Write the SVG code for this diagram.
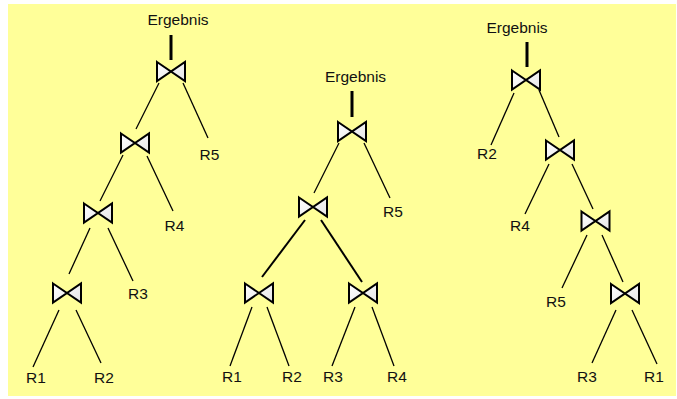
<svg xmlns="http://www.w3.org/2000/svg" xmlns:xlink="http://www.w3.org/1999/xlink" width="677" height="399" viewBox="0 0 677 399">
  <style>
    .lbl { font-family: "Liberation Sans", Arial, sans-serif; font-size: 15.5px; fill: #111; }
    .edge { stroke: #000; stroke-width: 1.3; fill: none; }
    .edge-bold { stroke: #000; stroke-width: 2; fill: none; }
    .root { stroke: #000; stroke-width: 3; fill: none; }
    .join { stroke: #000; stroke-width: 2; stroke-linejoin: miter; fill: url(#joinFill); }
  </style>
  <defs>
    <linearGradient id="joinFill" x1="0" y1="0" x2="1" y2="1">
      <stop offset="0" stop-color="#ffffff"/>
      <stop offset="1" stop-color="#e6e6e6"/>
    </linearGradient>
    <!-- join (bowtie) symbol centred on 0,0 -->
    <path id="bowtie" class="join" d="M -14 -9.5 L 14 9.5 L 14 -9.5 L -14 9.5 Z"/>
  </defs>

  <rect x="8" y="4" width="668" height="392" fill="#ffff99"/>

  <!-- connectors -->
  <g id="connectors">
    <!-- left-deep plan -->
    <line class="root" x1="171" y1="35" x2="171" y2="60"/>
    <line class="edge" x1="159" y1="83" x2="136" y2="129"/>
    <line class="edge" x1="183" y1="83" x2="208" y2="138"/>
    <line class="edge" x1="123" y1="155" x2="100" y2="201"/>
    <line class="edge" x1="147" y1="156" x2="173" y2="211"/>
    <line class="edge" x1="90" y1="228" x2="69" y2="274"/>
    <line class="edge" x1="108" y1="228" x2="133" y2="281"/>
    <line class="edge" x1="59" y1="310" x2="33" y2="367"/>
    <line class="edge" x1="76" y1="310" x2="101" y2="363"/>

    <!-- bushy plan -->
    <line class="root" x1="352" y1="91" x2="352" y2="117"/>
    <line class="edge" x1="339" y1="143" x2="314" y2="193"/>
    <line class="edge" x1="364" y1="143" x2="390" y2="198"/>
    <line class="edge-bold" x1="305" y1="220" x2="262" y2="277"/>
    <line class="edge-bold" x1="321" y1="220" x2="362" y2="282"/>
    <line class="edge" x1="252" y1="307" x2="230" y2="366"/>
    <line class="edge" x1="267" y1="307" x2="289" y2="366"/>
    <line class="edge" x1="355" y1="307" x2="332" y2="366"/>
    <line class="edge" x1="372" y1="307" x2="394" y2="366"/>

    <!-- right-deep plan -->
    <line class="root" x1="527" y1="42" x2="527" y2="67"/>
    <line class="edge" x1="514" y1="93" x2="491" y2="145"/>
    <line class="edge" x1="539" y1="90" x2="559" y2="137"/>
    <line class="edge" x1="549" y1="164" x2="525" y2="214"/>
    <line class="edge" x1="572" y1="164" x2="593" y2="209"/>
    <line class="edge" x1="587" y1="235" x2="562" y2="288"/>
    <line class="edge" x1="602" y1="235" x2="623" y2="282"/>
    <line class="edge" x1="616" y1="310" x2="592" y2="363"/>
    <line class="edge" x1="632" y1="310" x2="657" y2="364"/>
  </g>

  <!-- left-deep plan nodes -->
  <g id="t1-result"><text class="lbl" x="178" y="25" text-anchor="middle">Ergebnis</text></g>
  <g id="t1-j1"><use xlink:href="#bowtie" x="171" y="71.5"/></g>
  <g id="t1-j2"><use xlink:href="#bowtie" x="135" y="143"/></g>
  <g id="t1-j3"><use xlink:href="#bowtie" x="98" y="213"/></g>
  <g id="t1-j4"><use xlink:href="#bowtie" x="67" y="293"/></g>
  <g id="t1-r5"><text class="lbl" x="199.5" y="159.5">R5</text></g>
  <g id="t1-r4"><text class="lbl" x="164.5" y="231">R4</text></g>
  <g id="t1-r3"><text class="lbl" x="128" y="299">R3</text></g>
  <g id="t1-r1"><text class="lbl" x="26" y="383">R1</text></g>
  <g id="t1-r2"><text class="lbl" x="94" y="383">R2</text></g>

  <!-- bushy plan nodes -->
  <g id="t2-result"><text class="lbl" x="355.5" y="82" text-anchor="middle">Ergebnis</text></g>
  <g id="t2-j1"><use xlink:href="#bowtie" x="352" y="131.5"/></g>
  <g id="t2-j2"><use xlink:href="#bowtie" x="313" y="207"/></g>
  <g id="t2-j3"><use xlink:href="#bowtie" x="259" y="293"/></g>
  <g id="t2-j4"><use xlink:href="#bowtie" x="363" y="293"/></g>
  <g id="t2-r5"><text class="lbl" x="383" y="217">R5</text></g>
  <g id="t2-r1"><text class="lbl" x="222" y="382">R1</text></g>
  <g id="t2-r2"><text class="lbl" x="282" y="382">R2</text></g>
  <g id="t2-r3"><text class="lbl" x="323" y="382">R3</text></g>
  <g id="t2-r4"><text class="lbl" x="387" y="382">R4</text></g>

  <!-- right-deep plan nodes -->
  <g id="t3-result"><text class="lbl" x="517" y="33" text-anchor="middle">Ergebnis</text></g>
  <g id="t3-j1"><use xlink:href="#bowtie" x="526" y="80"/></g>
  <g id="t3-j2"><use xlink:href="#bowtie" x="560" y="150"/></g>
  <g id="t3-j3"><use xlink:href="#bowtie" x="595.5" y="221"/></g>
  <g id="t3-j4"><use xlink:href="#bowtie" x="625" y="293.5"/></g>
  <g id="t3-r2"><text class="lbl" x="477" y="159">R2</text></g>
  <g id="t3-r4"><text class="lbl" x="510" y="231">R4</text></g>
  <g id="t3-r5"><text class="lbl" x="546" y="307">R5</text></g>
  <g id="t3-r3"><text class="lbl" x="577" y="382">R3</text></g>
  <g id="t3-r1"><text class="lbl" x="644" y="382">R1</text></g>
</svg>
